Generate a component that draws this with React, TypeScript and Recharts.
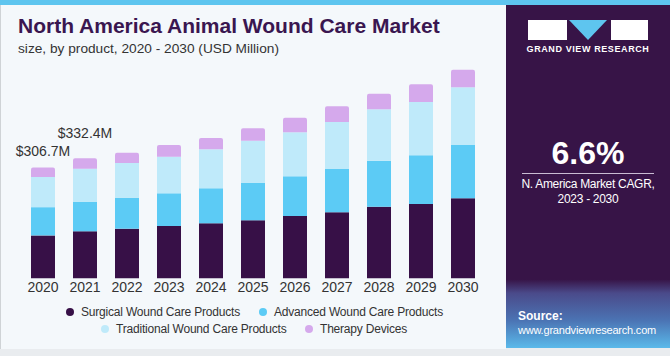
import { Bar, BarChart, LabelList, XAxis, YAxis } from "recharts";

const years = ["2020", "2021", "2022", "2023", "2024", "2025", "2026", "2027", "2028", "2029", "2030"];
const surgical = [118.8, 130.2, 137.4, 144.9, 152.4, 160.7, 172.6, 182.8, 198.3, 205.8, 221.6];
const advanced = [78.2, 82.0, 85.9, 90.6, 97.0, 104.2, 110.0, 119.9, 127.4, 134.9, 147.6];
const traditional = [83.8, 91.4, 96.1, 101.4, 108.0, 116.3, 121.9, 130.2, 142.4, 147.6, 159.8];
const therapy = [26.0, 28.8, 28.5, 32.4, 31.3, 34.3, 40.4, 43.5, 43.2, 49.0, 48.8];
const totalLabels = ["$306.7M", "$332.4M", "", "", "", "", "", "", "", "", ""];

const data = years.map((year, i) => ({
  year,
  surgical: surgical[i],
  advanced: advanced[i],
  traditional: traditional[i],
  therapy: therapy[i],
  label: totalLabels[i],
}));

const FONT = "'Liberation Sans', Arial, sans-serif";
const labelOffsets = [15, 24];

const legendItems = [
  { name: "Surgical Wound Care Products", color: "#371047", x: 70, y: 312 },
  { name: "Advanced Wound Care Products", color: "#5ccbf5", x: 263, y: 312 },
  { name: "Traditional Wound Care Products", color: "#bfeafa", x: 105, y: 329 },
  { name: "Therapy Devices", color: "#d5a9ec", x: 309, y: 329 },
];

function TotalLabel(props: any) {
  const { x, y, width, value, index } = props;
  if (!value) return null;
  return (
    <text
      x={x + width / 2}
      y={y - (labelOffsets[index] ?? 15)}
      textAnchor="middle"
      dominantBaseline="middle"
      fontSize={14}
      fill="#333"
      fontFamily={FONT}
    >
      {value}
    </text>
  );
}

export default function App() {
  return (
    <div
      style={{
        position: "absolute",
        left: 0,
        top: 0,
        width: 670,
        height: 356,
        background: "#e9ecef",
        fontFamily: FONT,
        overflow: "hidden",
      }}
    >
      <div style={{ position: "absolute", left: 0, top: 0, width: 670, height: 5, background: "#5ec5ef" }} />
      <div
        style={{
          position: "absolute",
          left: 0,
          top: 5,
          width: 506,
          height: 344,
          background: "#f4f8fb",
          borderLeft: "1px solid #cfd3d6",
          boxSizing: "border-box",
        }}
      />
      <div
        style={{
          position: "absolute",
          left: 18,
          top: 14,
          fontSize: 21,
          fontWeight: 700,
          color: "#3a1650",
          whiteSpace: "nowrap",
        }}
      >
        North America Animal Wound Care Market
      </div>
      <div style={{ position: "absolute", left: 18, top: 41, fontSize: 13.7, color: "#333", whiteSpace: "nowrap" }}>
        size, by product, 2020 - 2030 (USD Million)
      </div>

      <div style={{ position: "absolute", left: 0, top: 0 }}>
        <BarChart
          width={500}
          height={300}
          data={data}
          margin={{ top: 61.7, right: 16, left: 22, bottom: 0 }}
          barSize={24}
        >
          <XAxis
            dataKey="year"
            axisLine={false}
            tickLine={false}
            tickSize={0}
            tickMargin={4}
            height={21.7}
            interval={0}
            tick={{ fill: "#333", fontSize: 14, fontFamily: FONT }}
          />
          <YAxis hide domain={[0, 600]} />
          <Bar dataKey="surgical" stackId="a" fill="#371047" isAnimationActive={false} />
          <Bar dataKey="advanced" stackId="a" fill="#5ccbf5" isAnimationActive={false} />
          <Bar dataKey="traditional" stackId="a" fill="#bfeafa" isAnimationActive={false} />
          <Bar dataKey="therapy" stackId="a" fill="#d5a9ec" radius={[2, 2, 0, 0]} isAnimationActive={false}>
            <LabelList dataKey="label" content={<TotalLabel />} />
          </Bar>
        </BarChart>
      </div>

      {legendItems.map((it) => (
        <div
          key={it.name}
          style={{
            position: "absolute",
            left: it.x - 4,
            top: it.y - 8,
            height: 16,
            display: "flex",
            alignItems: "center",
            fontSize: 12,
            letterSpacing: -0.2,
            color: "#333",
            whiteSpace: "nowrap",
          }}
        >
          <span
            style={{
              display: "inline-block",
              width: 8,
              height: 8,
              borderRadius: 4,
              background: it.color,
              marginRight: 7,
            }}
          />
          {it.name}
        </div>
      ))}

      <div
        style={{
          position: "absolute",
          left: 506,
          top: 5,
          width: 164,
          height: 343,
          background:
            "linear-gradient(to bottom, #371447 0%, #371447 80%, #4a4a8a 84%, #4b74b4 92%, #5ab9ea 100%)",
          color: "#fff",
        }}
      >
        <div style={{ position: "absolute", left: 22, top: 15, width: 39, height: 20, background: "#fff" }} />
        <svg style={{ position: "absolute", left: 63, top: 15 }} width={38} height={20}>
          <polygon points="0,0 38,0 19,20" fill="#5ec5ef" />
        </svg>
        <div style={{ position: "absolute", left: 105, top: 15, width: 37, height: 20, background: "#fff" }} />
        <div
          style={{
            position: "absolute",
            left: 0,
            width: 164,
            top: 39,
            textAlign: "center",
            fontSize: 9,
            fontWeight: 700,
            letterSpacing: 0.6,
          }}
        >
          GRAND VIEW RESEARCH
        </div>
        <div
          style={{
            position: "absolute",
            left: 0,
            width: 164,
            top: 130,
            textAlign: "center",
            fontSize: 32,
            fontWeight: 700,
          }}
        >
          6.6%
        </div>
        <div style={{ position: "absolute", left: 16, top: 168, width: 132, height: 1, background: "#c9bcd3" }} />
        <div
          style={{
            position: "absolute",
            left: 0,
            width: 164,
            top: 172,
            textAlign: "center",
            fontSize: 12,
            letterSpacing: -0.3,
            lineHeight: "15px",
          }}
        >
          N. America Market CAGR,
          <br />
          2023 - 2030
        </div>
        <div style={{ position: "absolute", left: 12, top: 304, fontSize: 12, fontWeight: 700 }}>Source:</div>
        <div style={{ position: "absolute", left: 12, top: 319, fontSize: 11, letterSpacing: -0.2 }}>
          www.grandviewresearch.com
        </div>
      </div>
    </div>
  );
}
